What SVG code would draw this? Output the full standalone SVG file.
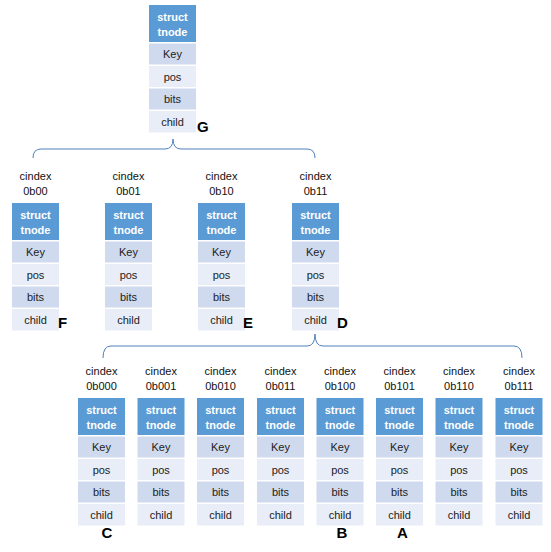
<svg xmlns="http://www.w3.org/2000/svg" width="551" height="552" viewBox="0 0 551 552">
<defs>
<style>
.hd{fill:#5B9BD5}
.r1{fill:#CFDAEE}
.r2{fill:#E8EDF7}
.ht{font-family:"Liberation Sans",Arial,sans-serif;font-size:11px;font-weight:bold;fill:#fff;text-anchor:middle}
.ct{font-family:"Liberation Sans",Arial,sans-serif;font-size:11px;fill:#222;text-anchor:middle}
.ci{font-family:"Liberation Sans",Arial,sans-serif;font-size:11px;fill:#111;text-anchor:middle}
.lb{font-family:"Liberation Sans",Arial,sans-serif;font-size:15px;font-weight:bold;fill:#000}
.br{fill:none;stroke:#4F81BD;stroke-width:1}
</style>
<g id="tpl">
<rect class="hd" x="0" y="0" width="47" height="37"/>
<text class="ht" x="23.5" y="16">struct</text>
<text class="ht" x="23.5" y="31">tnode</text>
<rect class="r1" x="0" y="38.5" width="47" height="21"/>
<text class="ct" x="23.5" y="53">Key</text>
<rect class="r2" x="0" y="61" width="47" height="21"/>
<text class="ct" x="23.5" y="75.5">pos</text>
<rect class="r1" x="0" y="83.5" width="47" height="21"/>
<text class="ct" x="23.5" y="98">bits</text>
<rect class="r2" x="0" y="106" width="47" height="21.5"/>
<text class="ct" x="23.5" y="120.5">child</text>
</g>
</defs>
<rect width="551" height="552" fill="#fff"/>

<g id="connectors">
<path class="br" d="M33,158 Q33,149 41,149 L165,149 Q173,149 173,139 Q173,149 181,149 L307,149 Q315,149 315,158"/>
<path class="br" d="M103,358 Q103,346 111,346 L307,346 Q315,346 315,334 Q315,346 323,346 L514,346 Q522,346 522,358"/>
</g>

<g id="root"><use href="#tpl" x="149" y="5"/><text class="lb" x="197" y="132">G</text></g>

<g id="n0b00"><text class="ci" x="35.5" y="180">cindex</text><text class="ci" x="35.5" y="195">0b00</text><use href="#tpl" x="12" y="203"/><text class="lb" x="58" y="328">F</text></g>
<g id="n0b01"><text class="ci" x="128.5" y="180">cindex</text><text class="ci" x="128.5" y="195">0b01</text><use href="#tpl" x="105" y="203"/></g>
<g id="n0b10"><text class="ci" x="221.5" y="180">cindex</text><text class="ci" x="221.5" y="195">0b10</text><use href="#tpl" x="198" y="203"/><text class="lb" x="243" y="328">E</text></g>
<g id="n0b11"><text class="ci" x="315.5" y="180">cindex</text><text class="ci" x="315.5" y="195">0b11</text><use href="#tpl" x="292" y="203"/><text class="lb" x="337" y="328">D</text></g>

<g id="n0b000"><text class="ci" x="101.5" y="375">cindex</text><text class="ci" x="101.5" y="390">0b000</text><use href="#tpl" x="78" y="398"/><text class="lb" x="107" y="538" text-anchor="middle">C</text></g>
<g id="n0b001"><text class="ci" x="161" y="375">cindex</text><text class="ci" x="161" y="390">0b001</text><use href="#tpl" x="137.5" y="398"/></g>
<g id="n0b010"><text class="ci" x="220.5" y="375">cindex</text><text class="ci" x="220.5" y="390">0b010</text><use href="#tpl" x="197" y="398"/></g>
<g id="n0b011"><text class="ci" x="280.5" y="375">cindex</text><text class="ci" x="280.5" y="390">0b011</text><use href="#tpl" x="257" y="398"/></g>
<g id="n0b100"><text class="ci" x="340" y="375">cindex</text><text class="ci" x="340" y="390">0b100</text><use href="#tpl" x="316.5" y="398"/><text class="lb" x="342" y="538" text-anchor="middle">B</text></g>
<g id="n0b101"><text class="ci" x="399.5" y="375">cindex</text><text class="ci" x="399.5" y="390">0b101</text><use href="#tpl" x="376" y="398"/><text class="lb" x="402.5" y="538" text-anchor="middle">A</text></g>
<g id="n0b110"><text class="ci" x="459" y="375">cindex</text><text class="ci" x="459" y="390">0b110</text><use href="#tpl" x="435.5" y="398"/></g>
<g id="n0b111"><text class="ci" x="519" y="375">cindex</text><text class="ci" x="519" y="390">0b111</text><use href="#tpl" x="495.5" y="398"/></g>
</svg>
